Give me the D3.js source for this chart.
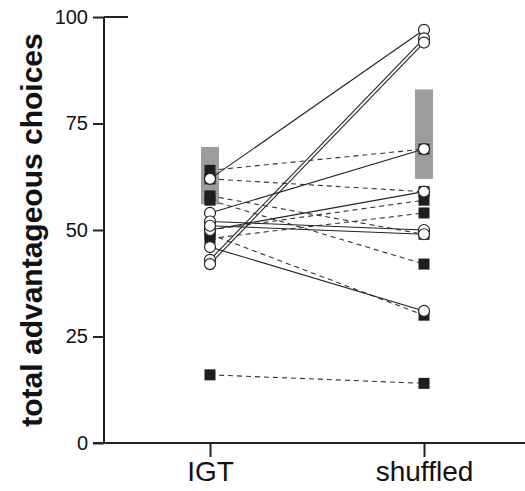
<!DOCTYPE html>
<html><head><meta charset="utf-8">
<script src="https://cdn.jsdelivr.net/npm/d3@7"></script>
<style>body{margin:0;background:#fff;}svg{display:block;font-family:"Liberation Sans",Arial,sans-serif;}</style>
</head><body><svg id="c" width="525" height="491"></svg>
<script>
const conditions = ["IGT", "shuffled"];
const yTicks = [0, 25, 50, 75, 100];
// subjects shown as open circles, joined by solid lines
const circleIGT      = [62, 43, 42, 54, 50, 52, 51, 46];
const circleShuffled = [97, 95, 94, 69, 59, 50, 49, 31];
// subjects shown as filled squares, joined by dashed lines
const squareIGT      = [64, 62, 58, 57, 50, 48, 49, 16];
const squareShuffled = [69, 59, 49, 42, 57, 54, 30, 14];
// gray summary bars [low, high]
const barLow  = [56, 62];
const barHigh = [69.5, 83];

const svg = d3.select("#c");
const y = d3.scaleLinear().domain([0, 100]).range([443, 17]);
const x = d3.scalePoint().domain(conditions).range([210, 424]);

// y axis
const yAxis = svg.append("g").attr("transform", "translate(104,0)")
  .call(d3.axisLeft(y).tickValues(yTicks).tickSize(11).tickPadding(5));
yAxis.select(".domain").remove();
yAxis.selectAll("line").attr("stroke", "#222").attr("stroke-width", 2);
yAxis.selectAll("text").attr("font-size", 20).attr("fill", "#111")
  .attr("font-family", "Liberation Sans, Arial, sans-serif");
svg.append("line").attr("x1", 104).attr("x2", 104).attr("y1", y(100)).attr("y2", y(0))
  .attr("stroke", "#222").attr("stroke-width", 2);
svg.append("line").attr("x1", 104).attr("x2", 128).attr("y1", y(100)).attr("y2", y(100))
  .attr("stroke", "#222").attr("stroke-width", 2);

// x axis
const xAxis = svg.append("g").attr("transform", `translate(0,${y(0)})`)
  .call(d3.axisBottom(x).tickSize(14).tickPadding(4));
xAxis.select(".domain").remove();
xAxis.selectAll("line").attr("stroke", "#222").attr("stroke-width", 2);
xAxis.selectAll("text").attr("font-size", 28).attr("fill", "#111")
  .attr("font-family", "Liberation Sans, Arial, sans-serif");
svg.append("line").attr("x1", 93).attr("x2", 525).attr("y1", y(0)).attr("y2", y(0))
  .attr("stroke", "#222").attr("stroke-width", 2);

// y title
svg.append("text").attr("transform", `translate(42,${(y(0)+y(100))/2}) rotate(-90)`)
  .attr("text-anchor", "middle").attr("font-weight", "bold").attr("font-size", 30)
  .attr("fill", "#111").text("total advantageous choices");

// gray bars
svg.selectAll("rect.bar").data(conditions).join("rect").attr("class", "bar")
  .attr("x", d => x(d) - 9).attr("width", 18)
  .attr("y", (d, i) => y(barHigh[i])).attr("height", (d, i) => y(barLow[i]) - y(barHigh[i]))
  .attr("fill", "#9d9d9d");

// dashed lines (squares)
svg.selectAll("line.sq").data(squareIGT).join("line").attr("class", "sq")
  .attr("x1", x("IGT")).attr("y1", d => y(d))
  .attr("x2", x("shuffled")).attr("y2", (d, i) => y(squareShuffled[i]))
  .attr("stroke", "#333").attr("stroke-width", 1.1).attr("stroke-dasharray", "5,4");
// solid lines (circles)
svg.selectAll("line.ci").data(circleIGT).join("line").attr("class", "ci")
  .attr("x1", x("IGT")).attr("y1", d => y(d))
  .attr("x2", x("shuffled")).attr("y2", (d, i) => y(circleShuffled[i]))
  .attr("stroke", "#222").attr("stroke-width", 1.1);

// squares
const sq = [];
squareIGT.forEach(v => sq.push([x("IGT"), y(v)]));
squareShuffled.forEach(v => sq.push([x("shuffled"), y(v)]));
svg.selectAll("rect.pt").data(sq).join("rect").attr("class", "pt")
  .attr("x", d => d[0] - 5.5).attr("y", d => d[1] - 5.5).attr("width", 11).attr("height", 11)
  .attr("fill", "#1e1e1e");
// circles
const ci = [];
circleIGT.forEach(v => ci.push([x("IGT"), y(v)]));
circleShuffled.forEach(v => ci.push([x("shuffled"), y(v)]));
svg.selectAll("circle.pt").data(ci).join("circle").attr("class", "pt")
  .attr("cx", d => d[0]).attr("cy", d => d[1]).attr("r", 5.5)
  .attr("fill", "#fff").attr("stroke", "#222").attr("stroke-width", 1.2);
</script></body></html>
